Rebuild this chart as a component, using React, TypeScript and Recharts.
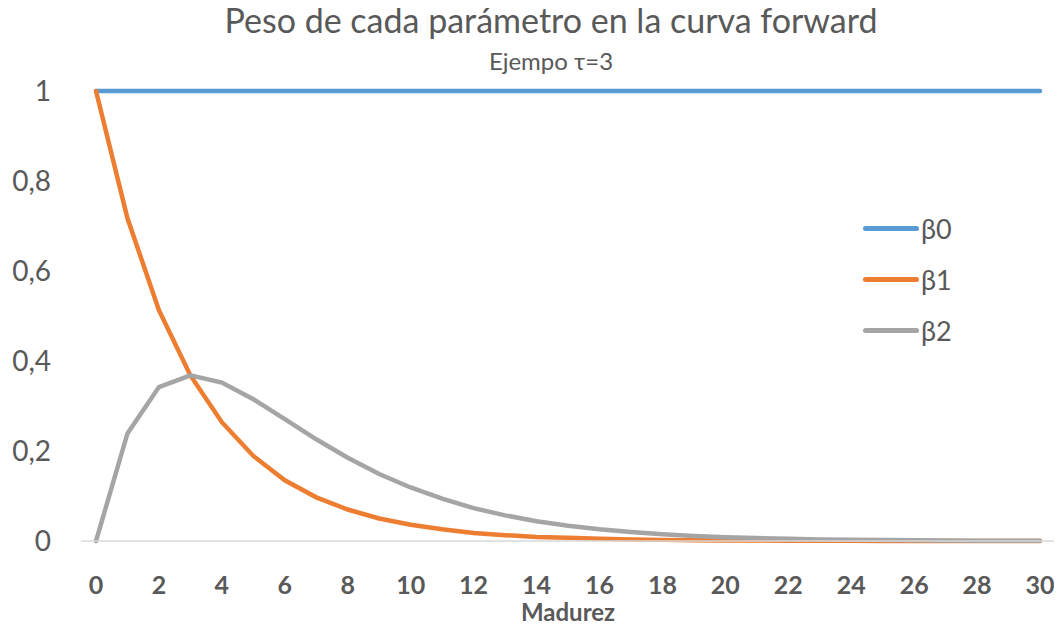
import React from 'react';
import { LineChart, Line, XAxis, YAxis } from 'recharts';

// Madurez 0..30 (years)
const maturities = [0, 1, 2, 3, 4, 5, 6, 7, 8, 9, 10, 11, 12, 13, 14, 15, 16, 17, 18, 19, 20, 21, 22, 23, 24, 25, 26, 27, 28, 29, 30];

const beta0 = [1, 1, 1, 1, 1, 1, 1, 1, 1, 1, 1, 1, 1, 1, 1, 1, 1, 1, 1, 1, 1, 1, 1, 1, 1, 1, 1, 1, 1, 1, 1];

const beta1 = [1, 0.717, 0.513, 0.368, 0.264, 0.189, 0.135, 0.097, 0.070, 0.050, 0.036, 0.026, 0.018, 0.013, 0.009, 0.007, 0.005, 0.0035, 0.0025, 0.0018, 0.0013, 0.0009, 0.0007, 0.0005, 0.0003, 0.0002, 0.0002, 0.0001, 0.0001, 0.0001, 0];

const beta2 = [0, 0.239, 0.342, 0.368, 0.352, 0.315, 0.271, 0.226, 0.185, 0.149, 0.119, 0.094, 0.073, 0.057, 0.044, 0.034, 0.026, 0.020, 0.015, 0.011, 0.0085, 0.0064, 0.0048, 0.0036, 0.0027, 0.002, 0.0015, 0.0011, 0.0008, 0.0006, 0.0005];

const xTicks = [0, 2, 4, 6, 8, 10, 12, 14, 16, 18, 20, 22, 24, 26, 28, 30];
const yTicks = [0, 0.2, 0.4, 0.6, 0.8, 1];

const seriesInfo = [
  { key: 'b0', name: 'β0', color: '#5B9BD5' },
  { key: 'b1', name: 'β1', color: '#ED7D31' },
  { key: 'b2', name: 'β2', color: '#A5A5A5' },
];

const data = maturities.map((m, i) => ({ m, b0: beta0[i], b1: beta1[i], b2: beta2[i] }));

const FONT = 'Lato, "Open Sans", sans-serif';
const TEXT = '#595959';

// legend drawn as an overlay so it doesn't eat into the plot area
const LegendBox = () => (
  <div style={{ position: 'absolute', left: 863, top: 203, fontFamily: FONT, color: TEXT }}>
    {seriesInfo.map((s) => (
      <div key={s.key} style={{ display: 'flex', alignItems: 'center', height: 51 }}>
        <div style={{ width: 56, height: 5, borderRadius: 3, background: s.color, marginRight: 2 }} />
        <span style={{ fontSize: 27 }}>{s.name}</span>
      </div>
    ))}
  </div>
);

export default function App() {
  return (
    <div style={{ position: 'relative', width: 1062, height: 631, margin: -8, background: '#fff' }}>
      <div style={{ position: 'absolute', top: 3, left: 0, width: 1102, textAlign: 'center', fontFamily: FONT, color: TEXT, fontSize: 34, lineHeight: 1 }}>
        Peso de cada parámetro en la curva forward
      </div>
      <div style={{ position: 'absolute', top: 49, left: 0, width: 1102, textAlign: 'center', fontFamily: FONT, color: TEXT, fontSize: 24, lineHeight: 1 }}>
        Ejempo τ=3
      </div>
      <LineChart width={1062} height={631} data={data} margin={{ top: 91, right: 7, left: 0, bottom: 0 }}>
        <XAxis
          dataKey="m"
          type="number"
          domain={[0, 30]}
          ticks={xTicks}
          interval={0}
          padding={{ left: 15, right: 15 }}
          height={90}
          axisLine={{ stroke: '#D9D9D9', strokeWidth: 1.5 }}
          tickLine={false}
          tickSize={0}
          tickMargin={35}
          tick={{ fill: TEXT, fontSize: 25, fontWeight: 700, fontFamily: FONT }}
          label={{ value: 'Madurez', position: 'insideBottom', offset: 10, fill: TEXT, fontSize: 24, fontWeight: 700, fontFamily: FONT }}
        />
        <YAxis
          domain={[0, 1]}
          ticks={yTicks}
          width={81}
          axisLine={false}
          tickLine={false}
          tickSize={0}
          tickMargin={30}
          tickFormatter={(v: number) => String(v).replace('.', ',')}
          tick={{ fill: TEXT, fontSize: 28, fontFamily: FONT }}
        />
        {seriesInfo.map((s) => (
          <Line
            key={s.key}
            type="linear"
            dataKey={s.key}
            name={s.name}
            stroke={s.color}
            strokeWidth={4.5}
            strokeLinecap="round"
            dot={false}
            activeDot={false}
            isAnimationActive={false}
          />
        ))}
      </LineChart>
      <LegendBox />
    </div>
  );
}
